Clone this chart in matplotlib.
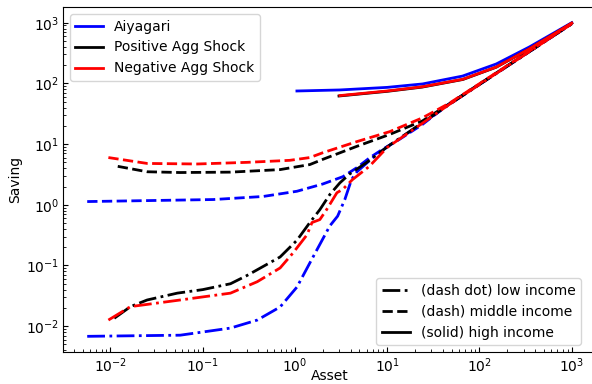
import matplotlib
matplotlib.use("Agg")
import matplotlib.pyplot as plt
from matplotlib.lines import Line2D

# Aiyagari (blue)
a_aiy_low = [0.0056, 0.057, 0.20, 0.39, 0.69, 1.05, 1.57, 2.39, 2.9, 3.47, 4.1, 4.7, 7.0, 10, 24, 47, 100, 300, 1000]
s_aiy_low = [0.0068, 0.0071, 0.0093, 0.0126, 0.0207, 0.044, 0.138, 0.45, 0.65, 1.22, 2.6, 3.5, 6.0, 9.0, 22, 45, 96, 288, 960]
a_aiy_mid = [0.0056, 0.13, 0.45, 1.05, 2.0, 3.3, 4.7, 6.5, 8.9, 13.6, 24, 44, 100, 300, 1000]
s_aiy_mid = [1.13, 1.22, 1.37, 1.67, 2.2, 2.9, 4.1, 6.0, 8.2, 12, 21, 43, 97, 290, 960]
a_aiy_high = [1.05, 3.07, 10, 24.2, 65.5, 152, 347, 1000]
s_aiy_high = [75, 78, 86, 98, 132, 209, 398, 1000]

# positive aggregate shock (black)
a_pos_low = [0.011, 0.0165, 0.025, 0.053, 0.10, 0.20, 0.30, 0.69, 1.05, 1.45, 1.86, 2.39, 3.07, 3.9, 6.0, 10, 24, 47, 100, 300, 1000]
s_pos_low = [0.0135, 0.021, 0.027, 0.035, 0.040, 0.050, 0.068, 0.138, 0.26, 0.51, 0.83, 1.48, 2.3, 3.2, 5.0, 9.0, 22.5, 45, 96, 288, 960]
a_pos_mid = [0.012, 0.025, 0.057, 0.20, 0.69, 1.45, 2.0, 4.7, 10.6, 24, 47, 100, 300, 1000]
s_pos_mid = [4.3, 3.5, 3.4, 3.45, 3.8, 4.6, 5.6, 9.2, 14.4, 24, 46, 98, 292, 965]
a_pos_high = [3.0, 10, 24, 66, 152, 347, 1000]
s_pos_high = [62, 74, 87, 116, 185, 370, 980]

# negative aggregate shock (red)
a_neg_low = [0.0095, 0.0165, 0.057, 0.20, 0.39, 0.69, 0.95, 1.35, 1.53, 1.86, 2.2, 2.85, 3.3, 4.2, 5.0, 6.4, 10, 24, 47, 100, 300, 1000]
s_neg_low = [0.0126, 0.021, 0.027, 0.035, 0.054, 0.091, 0.16, 0.32, 0.51, 0.57, 0.83, 1.58, 1.8, 2.6, 3.2, 4.3, 8.8, 22, 45, 96, 288, 960]
a_neg_mid = [0.0095, 0.025, 0.087, 0.30, 0.88, 1.45, 2.0, 4.7, 10.6, 24, 47, 100, 300, 1000]
s_neg_mid = [6.0, 4.8, 4.7, 5.0, 5.4, 6.0, 7.2, 11, 16, 27, 47, 99, 295, 970]
a_neg_high = [3.07, 10, 24, 66, 152, 347, 1000]
s_neg_high = [63, 75, 88, 117, 186, 371, 985]

fig = plt.figure(figsize=(5.92, 3.84), dpi=100)
ax = fig.add_axes([0.1064, 0.0833, 0.9003, 0.8984])

lw = 2
ax.plot(a_aiy_low, s_aiy_low, color='b', ls='-.', lw=lw)
ax.plot(a_aiy_mid, s_aiy_mid, color='b', ls='--', lw=lw)
ax.plot(a_aiy_high, s_aiy_high, color='b', ls='-', lw=lw)
ax.plot(a_pos_low, s_pos_low, color='k', ls='-.', lw=lw)
ax.plot(a_pos_mid, s_pos_mid, color='k', ls='--', lw=lw)
ax.plot(a_pos_high, s_pos_high, color='k', ls='-', lw=lw)
ax.plot(a_neg_low, s_neg_low, color='r', ls='-.', lw=lw)
ax.plot(a_neg_mid, s_neg_mid, color='r', ls='--', lw=lw)
ax.plot(a_neg_high, s_neg_high, color='r', ls='-', lw=lw)

ax.set_xscale('log')
ax.set_yscale('log')
ax.tick_params(which='both', direction='in', pad=3)
ax.set_xlabel("Asset")
ax.set_ylabel("Saving")
ax.xaxis.set_label_coords(0.5, -0.048)
ax.yaxis.set_label_coords(-0.076, 0.5)

h1 = [Line2D([], [], color='b', lw=lw), Line2D([], [], color='k', lw=lw), Line2D([], [], color='r', lw=lw)]
leg1 = ax.legend(h1, ["Aiyagari", "Positive Agg Shock", "Negative Agg Shock"], loc='upper left')
ax.add_artist(leg1)
h2 = [Line2D([], [], color='k', ls='-.', lw=lw), Line2D([], [], color='k', ls='--', lw=lw), Line2D([], [], color='k', ls='-', lw=lw)]
ax.legend(h2, ["(dash dot) low income", "(dash) middle income", "(solid) high income"], loc='lower right',
          bbox_to_anchor=(0.985, 0.0))

fig.savefig("out.png", dpi=100)
